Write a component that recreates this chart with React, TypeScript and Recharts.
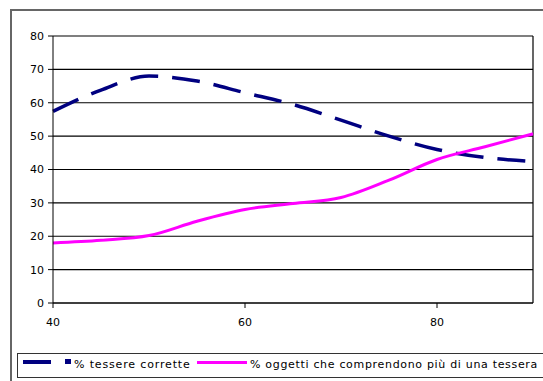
import { LineChart, Line, XAxis, YAxis, CartesianGrid, ReferenceLine } from 'recharts';

// x positions (numeric axis) and the two series
const xValues = [40, 45, 50, 55, 60, 65, 70, 75, 80, 85, 90];
const tessereCorrette = [57.4, 63.8, 68, 66.5, 63, 59.5, 54.8, 50, 46, 43.6, 42.4];
const oggettiPiuTessere = [18, 18.8, 20.2, 24.5, 28, 29.8, 31.6, 36.8, 43, 46.8, 50.7];

const xTicks = [40, 60, 80];
const yTicks = [0, 10, 20, 30, 40, 50, 60, 70, 80];

const seriesNames = ['% tessere corrette', '% oggetti che comprendono più di una tessera'];

const data = xValues.map((x, i) => ({
  x,
  tessere: tessereCorrette[i],
  oggetti: oggettiPiuTessere[i],
}));

const FONT = '"DejaVu Sans", Verdana, sans-serif';
const tickStyle = { fontSize: 11, fill: '#000', fontFamily: FONT };

export default function App() {
  return (
    <div
      style={{
        position: 'absolute',
        left: 0,
        top: 0,
        width: 543,
        height: 381,
        overflow: 'hidden',
        background: '#fff',
        fontFamily: FONT,
      }}
    >
      <div
        style={{
          position: 'absolute',
          left: 10,
          top: 9,
          width: 600,
          height: 420,
          borderLeft: '2px solid #666',
          borderTop: '2px solid #666',
        }}
      />
      <LineChart
        width={543}
        height={381}
        data={data}
        margin={{ top: 36, right: 10, left: 0, bottom: 0 }}
        style={{ position: 'absolute', left: 0, top: 0 }}
      >
        <CartesianGrid horizontal vertical={false} stroke="#000" strokeWidth={1.2} />
        <XAxis
          dataKey="x"
          type="number"
          domain={[40, 90]}
          ticks={xTicks}
          height={78}
          stroke="#000"
          tick={tickStyle}
          tickSize={5}
          tickMargin={10}
        />
        <YAxis
          type="number"
          domain={[0, 80]}
          ticks={yTicks}
          width={53}
          stroke="#000"
          tick={tickStyle}
          tickSize={5}
          tickMargin={4}
        />
        <ReferenceLine x={90} stroke="#000" strokeWidth={1.2} />
        <Line
          type="monotone"
          dataKey="tessere"
          name={seriesNames[0]}
          stroke="#000080"
          strokeWidth={3.5}
          strokeDasharray="28 14"
          dot={false}
          isAnimationActive={false}
        />
        <Line
          type="monotone"
          dataKey="oggetti"
          name={seriesNames[1]}
          stroke="#ff00ff"
          strokeWidth={3}
          dot={false}
          isAnimationActive={false}
        />
      </LineChart>

      {/* legend box */}
      <div
        style={{
          position: 'absolute',
          left: 17,
          top: 353,
          width: 540,
          height: 23,
          border: '1.5px solid #333',
        }}
      />
      <div style={{ position: 'absolute', left: 23, top: 360, width: 28, height: 4, background: '#000080' }} />
      <div style={{ position: 'absolute', left: 65, top: 359, width: 6, height: 5, background: '#000080' }} />
      <div
        style={{
          position: 'absolute',
          left: 74,
          top: 358,
          fontSize: 11,
          lineHeight: '13px',
          letterSpacing: 0.85,
          color: '#000',
          whiteSpace: 'nowrap',
        }}
      >
        {seriesNames[0]}
      </div>
      <div style={{ position: 'absolute', left: 197, top: 361, width: 50, height: 3, background: '#ff00ff' }} />
      <div
        style={{
          position: 'absolute',
          left: 250,
          top: 358,
          fontSize: 11,
          lineHeight: '13px',
          letterSpacing: 0.68,
          color: '#000',
          whiteSpace: 'nowrap',
        }}
      >
        {seriesNames[1]}
      </div>
    </div>
  );
}
